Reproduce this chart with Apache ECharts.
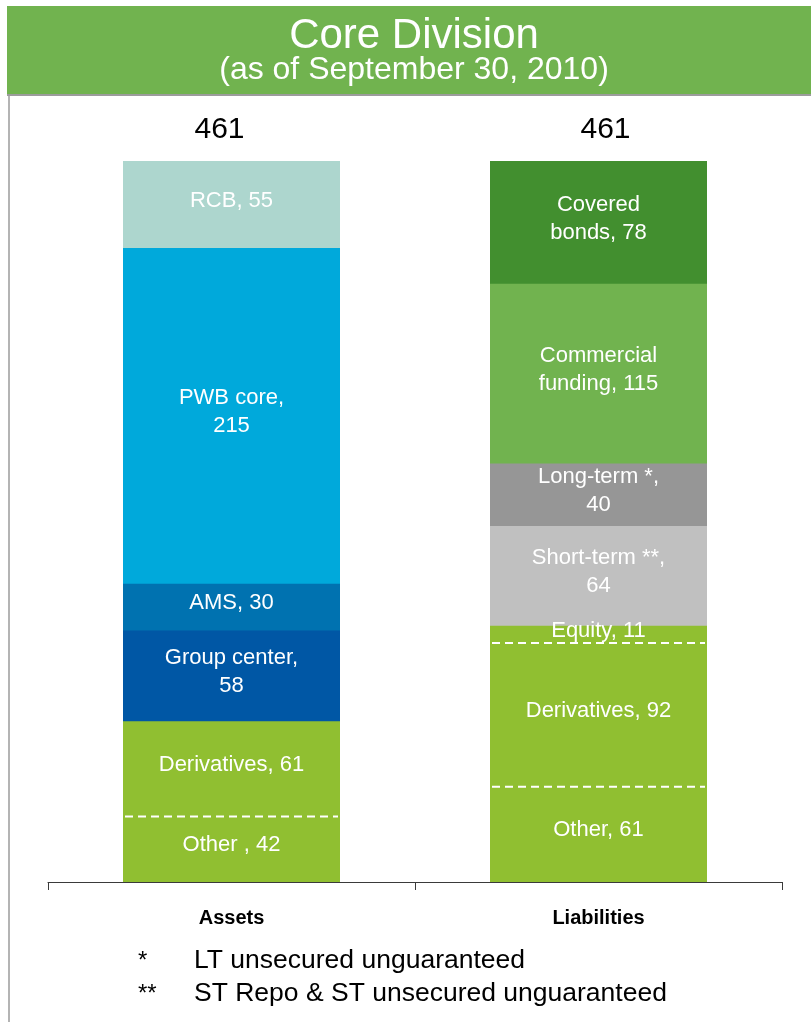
<!DOCTYPE html>
<html>
<head>
<meta charset="utf-8">
<title>Core Division</title>
<script src="https://cdn.jsdelivr.net/npm/echarts@6/dist/echarts.min.js"></script>
<style>
  html, body { margin: 0; padding: 0; background: #fff; }
  #chart { width: 811px; height: 1022px; }
</style>
</head>
<body>
<div id="chart"></div>
<script>
// Balance sheet categories
const categories = ['Assets', 'Liabilities'];

// Assets, stacked bottom to top (CHF bn)
const assetNames = ['Other ', 'Derivatives', 'Group center', 'AMS', 'PWB core', 'RCB'];
const assetSeparators = [', ', ', ', ',\n', ', ', ',\n', ', '];
const assetValues = [42, 61, 58, 30, 215, 55];

// Liabilities, stacked bottom to top (CHF bn)
const liabilityNames = ['Other', 'Derivatives', 'Equity', 'Short-term **', 'Long-term *', 'Commercial\nfunding', 'Covered\nbonds'];
const liabilitySeparators = [', ', ', ', ', ', ',\n', ',\n', ', ', ', '];
const liabilityValues = [61, 92, 11, 64, 40, 115, 78];

// Footnotes
const footnoteMarks = ['*', '**'];
const footnoteTexts = ['LT unsecured unguaranteed', 'ST Repo & ST unsecured unguaranteed'];

// Segment colours
const assetColors = ['#90BF31', '#90BF31', '#0057A5', '#0072B0', '#00A9DB', '#ADD6CE'];
const liabilityColors = ['#90BF31', '#90BF31', '#90BF31', '#C0C0C0', '#969696', '#71B34F', '#428F2F'];

const FONT = 'Arial, "Liberation Sans", Helvetica, sans-serif';
const BAR_WIDTH = 217;
// horizontal nudge of the total labels above each column
const TOTAL_SHIFT = [-12, 7];

const sum = arr => arr.reduce((a, b) => a + b, 0);
const totals = [sum(assetValues), sum(liabilityValues)];

function segmentSeries(names, seps, values, colors, catIndex) {
  return values.map((v, i) => ({
    name: names[i],
    type: 'bar',
    stack: 'total',
    barWidth: BAR_WIDTH,
    data: categories.map((_, c) => (c === catIndex ? v : '-')),
    // a 1px same-colour shadow above each segment closes anti-aliasing seams
    itemStyle: {
      color: colors[i],
      shadowColor: colors[i],
      shadowBlur: 0,
      shadowOffsetX: 0,
      shadowOffsetY: -1
    },
    label: {
      show: true,
      position: 'inside',
      offset: [0, -4],
      color: '#fff',
      fontFamily: FONT,
      fontSize: 22,
      lineHeight: 28,
      textShadowBlur: 0,
      textShadowColor: 'transparent',
      formatter: () => names[i] + seps[i] + v
    },
    emphasis: { disabled: true },
    silent: true,
    animation: false
  }));
}

// Dashed white separators between adjacent segments of the same colour
function separators(values, colors, catIndex) {
  const out = [];
  let acc = 0;
  for (let i = 0; i < values.length - 1; i++) {
    acc += values[i];
    if (colors[i] === colors[i + 1]) out.push([catIndex, acc]);
  }
  return out;
}
const separatorData = separators(assetValues, assetColors, 0)
  .concat(separators(liabilityValues, liabilityColors, 1));

const chart = echarts.init(document.getElementById('chart'), null, { renderer: 'canvas' });

const option = {
  animation: false,
  backgroundColor: '#fff',
  grid: { left: 48, right: 29, top: 162, bottom: 140, containLabel: false },
  xAxis: {
    type: 'category',
    data: categories,
    axisLine: { show: true, lineStyle: { color: '#3a3a3a', width: 1 } },
    axisTick: { show: true, length: 8, interval: 0, lineStyle: { color: '#3a3a3a', width: 1 } },
    axisLabel: {
      margin: 26,
      color: '#000',
      fontFamily: FONT,
      fontSize: 20,
      fontWeight: 'bold'
    }
  },
  yAxis: {
    type: 'value',
    min: 0,
    max: Math.max(...totals),
    show: false,
    splitLine: { show: false }
  },
  graphic: [
    // header banner
    { type: 'rect', shape: { x: 7, y: 6, width: 804, height: 88 }, style: { fill: '#71B34F' }, silent: true },
    { type: 'rect', shape: { x: 7, y: 94, width: 804, height: 2 }, style: { fill: '#9C9C9C' }, silent: true },
    { type: 'rect', shape: { x: 8, y: 96, width: 2, height: 926 }, style: { fill: '#B4B4B4' }, silent: true },
    {
      type: 'text', x: 414, y: 36, silent: true,
      style: { text: 'Core Division', fill: '#fff', font: '42px ' + FONT, textAlign: 'center', textVerticalAlign: 'middle', align: 'center', verticalAlign: 'middle' }
    },
    {
      type: 'text', x: 414, y: 70, silent: true,
      style: { text: '(as of September 30, 2010)', fill: '#fff', font: '32px ' + FONT, textAlign: 'center', textVerticalAlign: 'middle', align: 'center', verticalAlign: 'middle' }
    },
    // footnotes
    ...footnoteMarks.map((m, i) => ({
      type: 'text', x: 138, y: 961 + i * 33, silent: true,
      style: { text: m, fill: '#000', font: '24px ' + FONT, textVerticalAlign: 'middle', verticalAlign: 'middle' }
    })),
    ...footnoteTexts.map((t, i) => ({
      type: 'text', x: 194, y: 961 + i * 33, silent: true,
      style: { text: t, fill: '#000', font: '26.5px ' + FONT, textVerticalAlign: 'middle', verticalAlign: 'middle' }
    }))
  ],
  series: [
    ...segmentSeries(assetNames, assetSeparators, assetValues, assetColors, 0),
    ...segmentSeries(liabilityNames, liabilitySeparators, liabilityValues, liabilityColors, 1),
    {
      name: 'separators',
      type: 'custom',
      data: separatorData,
      z: 5,
      silent: true,
      renderItem: (params, api) => {
        const p = api.coord([api.value(0), api.value(1)]);
        const half = BAR_WIDTH / 2;
        return {
          type: 'line',
          shape: { x1: p[0] - half + 2, y1: p[1], x2: p[0] + half - 2, y2: p[1] },
          style: { stroke: '#fff', lineWidth: 2, lineDash: [8, 5] }
        };
      }
    },
    {
      name: 'totals',
      type: 'custom',
      data: totals.map((t, i) => [i, t]),
      z: 5,
      silent: true,
      renderItem: (params, api) => {
        const idx = api.value(0);
        const p = api.coord([idx, api.value(1)]);
        return {
          type: 'text',
          x: p[0] + TOTAL_SHIFT[idx],
          y: p[1] - 32,
          style: {
            text: String(api.value(1)),
            fill: '#000',
            font: '30px ' + FONT,
            textAlign: 'center', textVerticalAlign: 'middle',
            align: 'center', verticalAlign: 'middle'
          }
        };
      }
    }
  ]
};

chart.setOption(option);
</script>
</body>
</html>
